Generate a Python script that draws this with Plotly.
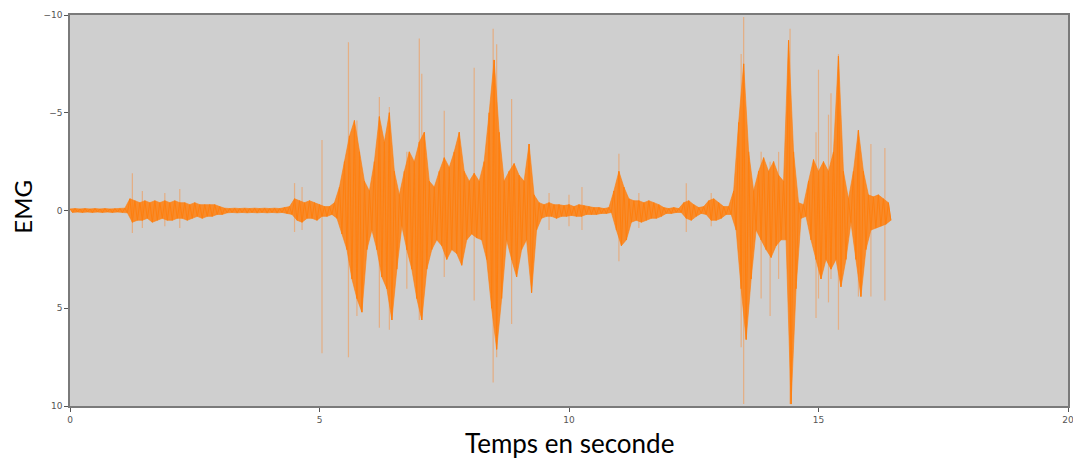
import numpy as np
import plotly.graph_objects as go

# Sampling grid of the read envelope (seconds)
t_step = 0.1
t_start = 0.0
n_samples = 165

# Upper (negative) extremes of the dense EMG core, one per 0.1 s
core_up = [
    -0.08, -0.1, -0.08, -0.1, -0.08, -0.1, -0.08, -0.1, -0.08, -0.1,
    -0.1, -0.12, -0.6, -0.5, -0.4, -0.5, -0.4, -0.5, -0.4, -0.5,
    -0.4, -0.5, -0.4, -0.4, -0.3, -0.4, -0.3, -0.3, -0.3, -0.3,
    -0.2, -0.12, -0.1, -0.12, -0.1, -0.12, -0.1, -0.12, -0.1, -0.12,
    -0.1, -0.12, -0.1, -0.15, -0.2, -0.6, -0.5, -0.4, -0.5, -0.4,
    -0.3, -0.2, -0.2, -0.4, -1.2, -2.5, -3.8, -4.6, -3.0, -1.5,
    -1.0, -2.5, -4.8, -3.5, -5.0, -2.0, -0.8, -2.0, -3.0, -2.5,
    -3.5, -4.0, -1.5, -1.2, -2.0, -2.7, -2.2, -3.0, -4.0, -2.0,
    -1.5, -1.9, -1.5, -2.5, -5.0, -7.7, -4.0, -1.5, -2.0, -2.4,
    -1.8, -1.5, -3.4, -0.8, -0.4, -0.3, -0.4, -0.3, -0.3, -0.25,
    -0.3, -0.2, -0.3, -0.25, -0.2, -0.15, -0.15, -0.1, -0.15, -1.0,
    -2.0, -1.2, -0.6, -0.5, -0.5, -0.4, -0.5, -0.4, -0.3, -0.15,
    -0.1, -0.15, -0.1, -0.4, -0.5, -0.3, -0.15, -0.2, -0.5, -0.6,
    -0.4, -0.2, -0.2, -1.0, -4.5, -7.5, -3.0, -1.0, -2.0, -2.7,
    -2.0, -2.5, -1.8, -1.5, -8.7, -3.0, -0.4, -0.3, -1.5, -2.6,
    -2.0, -2.5, -2.0, -3.0, -7.9, -2.0, -0.6, -2.0, -4.1, -2.0,
    -0.8, -0.7, -0.8, -0.6, -0.4,
]

# Lower (positive) extremes of the dense EMG core, one per 0.1 s
core_dn = [
    0.1, 0.08, 0.1, 0.08, 0.1, 0.08, 0.1, 0.08, 0.1, 0.08,
    0.1, 0.12, 0.6, 0.5, 0.5, 0.4, 0.6, 0.5, 0.4, 0.5,
    0.5, 0.4, 0.4, 0.5, 0.4, 0.3, 0.4, 0.3, 0.3, 0.2,
    0.2, 0.12, 0.1, 0.12, 0.1, 0.12, 0.1, 0.12, 0.1, 0.12,
    0.1, 0.12, 0.1, 0.15, 0.2, 0.5, 0.6, 0.4, 0.4, 0.5,
    0.3, 0.3, 0.2, 0.4, 1.2, 2.0, 3.5, 4.5, 5.2, 2.0,
    1.0, 2.0, 3.4, 4.0, 5.6, 3.0, 0.8, 2.0, 3.0, 4.5,
    5.6, 3.0, 2.0, 1.5, 1.8, 2.5, 2.0, 2.2, 2.8, 1.5,
    1.2, 1.4, 1.5, 2.5, 5.0, 7.1, 4.5, 1.5, 2.5, 3.4,
    2.0, 1.5, 4.2, 1.0, 0.4, 0.3, 0.3, 0.4, 0.3, 0.3,
    0.25, 0.3, 0.3, 0.2, 0.2, 0.2, 0.15, 0.15, 0.1, 1.0,
    1.8, 1.5, 0.6, 0.5, 0.6, 0.5, 0.4, 0.4, 0.3, 0.15,
    0.15, 0.1, 0.1, 0.4, 0.5, 0.3, 0.15, 0.2, 0.5, 0.5,
    0.4, 0.2, 0.2, 1.0, 4.0, 6.6, 3.5, 1.0, 1.5, 2.0,
    2.4, 1.8, 1.5, 1.5, 9.9, 4.0, 0.4, 0.3, 1.5, 2.5,
    3.5, 2.5, 3.0, 2.5, 3.9, 2.5, 0.6, 2.5, 4.4, 2.0,
    1.0, 0.9, 0.8, 0.7, 0.5,
]

# Isolated faint spikes (time, top value, bottom value)
spike_t = [1.25, 1.45, 1.9, 2.2, 4.5, 4.65, 5.05, 5.58, 5.75, 6.2, 6.4, 6.75,
           7.0, 7.05, 7.5, 8.1, 8.48, 8.55, 8.85, 9.6, 10.0, 10.26, 11.0, 11.4,
           12.35, 12.85, 13.45, 13.5, 13.85, 14.03, 14.2, 14.43, 14.95, 15.0,
           15.2, 15.25, 15.4, 15.8, 16.05, 16.33]
spike_top = [-1.9, -1.0, -0.9, -1.1, -1.4, -1.2, -3.6, -8.6, -4.6, -5.8, -5.3, -3.0,
             -8.8, -7.0, -5.1, -7.3, -9.3, -8.5, -5.7, -0.9, -0.8, -1.2, -2.9, -0.9,
             -1.4, -0.9, -8.0, -9.9, -3.0, -2.5, -3.0, -9.3, -4.0, -7.2,
             -4.9, -6.0, -8.0, -4.1, -3.4, -3.2]
spike_bottom = [1.15, 0.9, 0.8, 0.9, 1.1, 1.0, 7.3, 7.5, 5.4, 6.0, 6.1, 4.0,
                5.6, 4.5, 3.4, 4.6, 8.8, 7.5, 5.8, 1.0, 0.8, 1.0, 2.6, 0.9,
                1.1, 0.8, 7.0, 9.9, 4.5, 5.4, 3.5, 9.9, 5.5, 4.5,
                4.7, 3.5, 6.1, 4.4, 4.4, 4.6]

x_ticks = [0, 5, 10, 15, 20]
y_ticks = [-10, -5, 0, 5, 10]

t_grid = t_start + t_step * np.arange(n_samples)
t_half = t_grid + t_step / 2

# Dense core: outline through the upper extremes, back through the lower ones
core_x = list(t_grid) + list(t_half[::-1])
core_y = list(core_up) + list(core_dn[::-1])

# Signal zigzag: each sample goes to its upper then lower extreme
sig_x, sig_y = [], []
for t, th, up, dn in zip(t_grid, t_half, core_up, core_dn):
    sig_x += [t, th]
    sig_y += [up, dn]

sp_x, sp_y = [], []
for t, a, b in zip(spike_t, spike_top, spike_bottom):
    sp_x += [t, t, None]
    sp_y += [a, b, None]

fig = go.Figure()
fig.add_trace(go.Scatter(x=sp_x, y=sp_y, mode="lines",
                         line=dict(color="rgba(255,135,40,0.45)", width=1.2),
                         hoverinfo="skip", showlegend=False))
fig.add_trace(go.Scatter(x=core_x, y=core_y, mode="lines", fill="toself",
                         fillcolor="rgba(255,127,14,0.85)",
                         line=dict(color="rgba(255,127,14,0.6)", width=1),
                         hoverinfo="skip", showlegend=False))
fig.add_trace(go.Scatter(x=sig_x, y=sig_y, mode="lines",
                         line=dict(color="#ff7f0e", width=1),
                         showlegend=False))

axis_common = dict(showgrid=False, zeroline=False, showline=True, mirror=True,
                   linecolor="#7a7a7a", linewidth=1.5, ticks="outside", ticklen=4,
                   tickcolor="#555", automargin=False, ticklabeloverflow="allow",
                   tickfont=dict(size=9, color="#555", family="DejaVu Sans"))
fig.update_xaxes(range=[0, 20], tickvals=x_ticks, **axis_common)
fig.update_yaxes(range=[10, -10], tickvals=y_ticks, **axis_common)

fig.update_layout(
    width=1073, height=461,
    margin=dict(l=70, r=5, t=15, b=55),
    plot_bgcolor="#cfcfcf", paper_bgcolor="white",
    annotations=[
        dict(text="EMG", xref="paper", yref="paper", x=-0.048, y=0.51,
             xanchor="center", yanchor="middle", textangle=-90, showarrow=False,
             font=dict(size=24, color="black", family="Lato")),
        dict(text="Temps en seconde", xref="paper", yref="paper", x=0.50, y=-0.094,
             xanchor="center", yanchor="middle", showarrow=False,
             font=dict(size=26, color="black", family="Lato")),
    ],
)

fig.write_html("out.html",
               config={"displayModeBar": False},
               post_script="document.body.style.margin='0';"
                           "document.body.style.overflow='hidden';")
